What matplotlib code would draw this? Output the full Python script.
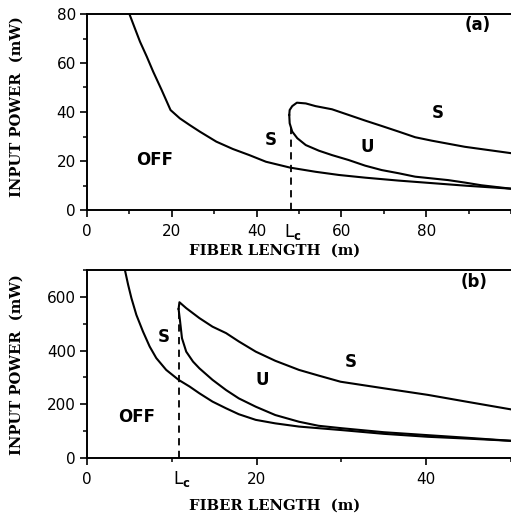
import numpy as np
import matplotlib
matplotlib.use('Agg')
import matplotlib.pyplot as plt
from matplotlib.ticker import MultipleLocator
import matplotlib.transforms as mtransforms

# panel (a): fiber length (m) vs input power (mW)
a_off_x = [10, 11.3, 12.5, 14.1, 15.6, 17.6, 19.7, 21.9, 24.2, 26.6, 30.5, 34.4, 38.3,
           42.2, 47.9, 53.9, 59.4, 65.6, 73.5, 79.6, 89.5, 100]
a_off_y = [80, 74.1, 68.7, 62.6, 56.5, 49, 40.8, 37.4, 34.7, 32, 27.9, 24.9, 22.4,
           19.7, 17.3, 15.6, 14.3, 13.2, 12, 11.2, 9.9, 8.7]
a_upper_x = [47.7, 47.8, 48.4, 49.5, 51.6, 53.9, 57.8, 61.7, 65.6, 69.5, 73.5, 77.4,
             81.3, 89.1, 100]
a_upper_y = [38.8, 40.8, 42.4, 43.8, 43.5, 42.4, 41.1, 38.8, 36.5, 34.3, 32, 29.7,
             28.3, 25.8, 23.2]
a_lower_x = [47.7, 47.8, 48.4, 49.6, 51.6, 54.7, 57.8, 61.7, 65.6, 69.5, 73.5, 77.4,
             81.3, 85.2, 89.1, 93, 100]
a_lower_y = [38.8, 35.4, 32, 29.3, 26.5, 24.2, 22.4, 20.4, 18.1, 16.3, 15, 13.6,
             12.9, 12.2, 11.2, 10.1, 8.7]
a_lc = 48
a_lc_top = 34

# panel (b)
b_off_x = [4.47, 4.85, 5.24, 5.82, 6.6, 7.39, 8.17, 9.34, 10.8, 12.1, 13.25, 14.8,
           16.4, 17.9, 19.9, 22.2, 25, 30, 35, 40.2, 45, 50]
b_off_y = [700, 645, 595, 533, 471, 415, 372, 328, 291, 266, 241, 210,
           185, 163, 142, 129, 117, 104, 90, 79, 72, 64]
b_upper_x = [10.8, 10.9, 11.7, 13.25, 14.8, 16.4, 17.9, 19.9, 22.2, 25, 27.3, 29.9,
             34.9, 40.2, 44.7, 50]
b_upper_y = [555, 580, 558, 521, 489, 465, 434, 396, 362, 328, 307, 284,
             260, 235, 210, 181]
b_lower_x = [10.8, 10.98, 11.2, 11.7, 12.5, 13.25, 14.8, 16.4, 17.9, 19.9, 22.2, 25,
             27.3, 30, 35, 40.2, 45, 50]
b_lower_y = [555, 508, 446, 396, 359, 334, 291, 253, 222, 191, 160, 135,
             120, 111, 96, 85, 75, 64]
b_lc = 10.8
b_lc_top = 560

W, H = 511, 519
fig = plt.figure(figsize=(W / 100, H / 100), dpi=100)

label_font = dict(family='DejaVu Serif', weight='bold', size=10.6)
region_font = dict(family='DejaVu Sans', weight='bold', size=12)


def px_axes(left, top, right, bottom):
    return fig.add_axes([left / W, 1 - bottom / H, (right - left) / W, (bottom - top) / H])


def style(ax, xmaj, ymaj, xmin, ymin, xticks):
    ax.xaxis.set_major_locator(MultipleLocator(xmaj))
    ax.xaxis.set_minor_locator(MultipleLocator(xmin))
    ax.yaxis.set_major_locator(MultipleLocator(ymaj))
    ax.yaxis.set_minor_locator(MultipleLocator(ymin))
    ax.set_xticks(xticks)
    ax.tick_params(which='major', direction='out', length=5, width=1.2, labelsize=11, pad=3)
    ax.tick_params(which='minor', direction='out', length=3, width=1.1)
    ax.tick_params(axis='x', which='major', pad=5)
    ax.spines['right'].set_visible(False)
    for s in ('left', 'bottom', 'top'):
        ax.spines[s].set_linewidth(1.4)


lw = 1.5

# ---- (a)
ax1 = px_axes(87, 14, 511, 210)
ax1.plot(a_off_x, a_off_y, color='black', lw=lw)
ax1.plot(a_upper_x, a_upper_y, color='black', lw=lw)
ax1.plot(a_lower_x, a_lower_y, color='black', lw=lw)
ax1.plot([a_lc, a_lc], [0, a_lc_top], color='black', lw=1.3, ls=(0, (4, 3)))
ax1.set_xlim(0, 100)
ax1.set_ylim(0, 80)
style(ax1, 20, 20, 10, 10, [0, 20, 40, 60, 80])
ax1.text(92.2, 75.5, '(a)', ha='center', va='center', **region_font)
ax1.text(43.4, 28.6, 'S', ha='center', va='center', **region_font)
ax1.text(16, 20.4, 'OFF', ha='center', va='center', **region_font)
ax1.text(66, 25.8, 'U', ha='center', va='center', **region_font)
ax1.text(82.8, 39.5, 'S', ha='center', va='center', **region_font)
tr1 = mtransforms.blended_transform_factory(ax1.transData, ax1.transAxes)
ax1.text(a_lc + 0.5, -0.06, r'L$_{\mathbf{c}}$', transform=tr1, ha='center', va='top',
         fontsize=12)
ax1.set_xlabel('FIBER LENGTH  (m)', **label_font)
ax1.xaxis.set_label_coords(0.443, -0.17)
ax1.xaxis.label.set_va('top')
ax1.set_ylabel('INPUT POWER  (mW)', **label_font)
ax1.yaxis.set_label_coords(-0.15, 0.526)

# ---- (b)
ax2 = px_axes(87, 270, 511, 458)
ax2.plot(b_off_x, b_off_y, color='black', lw=lw)
ax2.plot(b_upper_x, b_upper_y, color='black', lw=lw)
ax2.plot(b_lower_x, b_lower_y, color='black', lw=lw)
ax2.plot([b_lc, b_lc], [0, b_lc_top], color='black', lw=1.3, ls=(0, (4, 3)))
ax2.set_xlim(0, 50)
ax2.set_ylim(0, 700)
style(ax2, 20, 200, 10, 100, [0, 20, 40])
ax2.text(45.6, 657, '(b)', ha='center', va='center', **region_font)
ax2.text(9, 452, 'S', ha='center', va='center', **region_font)
ax2.text(5.85, 154, 'OFF', ha='center', va='center', **region_font)
ax2.text(20.7, 291, 'U', ha='center', va='center', **region_font)
ax2.text(31.1, 359, 'S', ha='center', va='center', **region_font)
tr2 = mtransforms.blended_transform_factory(ax2.transData, ax2.transAxes)
ax2.text(b_lc + 0.4, -0.06, r'L$_{\mathbf{c}}$', transform=tr2, ha='center', va='top',
         fontsize=12)
ax2.set_xlabel('FIBER LENGTH  (m)', **label_font)
ax2.xaxis.set_label_coords(0.443, -0.215)
ax2.xaxis.label.set_va('top')
ax2.set_ylabel('INPUT POWER  (mW)', **label_font)
ax2.yaxis.set_label_coords(-0.15, 0.495)

fig.savefig('out.png', dpi=100)
